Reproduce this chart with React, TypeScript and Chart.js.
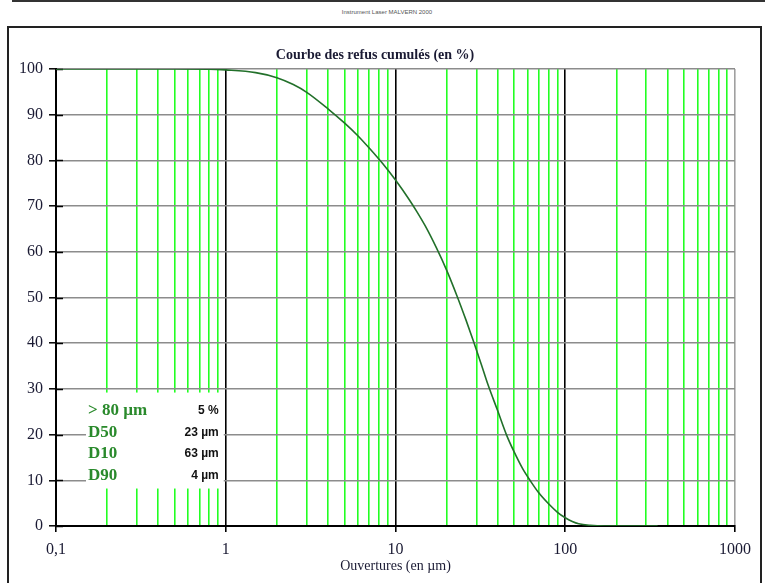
import React, { useEffect, useRef } from 'react';
import { Chart, registerables } from 'chart.js';

Chart.register(...registerables);

// ---- Data ----
const sizes = [0.1, 0.5, 0.8, 1, 1.5, 2, 2.5, 3, 4, 5, 6, 7, 8.4, 10, 12, 13.3, 15, 17.4, 20, 23, 26, 29, 32, 35, 40, 45, 50, 56, 63, 70, 80, 90, 100, 110, 120, 140, 170, 350];
const refus = [100, 100, 99.97, 99.8, 99.2, 98.1, 96.6, 94.9, 91.3, 88.2, 85.4, 82.7, 79.3, 75.7, 71.5, 68.9, 65.6, 60.9, 56, 50.4, 45.1, 40.1, 35.4, 31, 25.2, 20, 16.2, 12.6, 9.6, 7.2, 4.8, 3, 1.8, 1.0, 0.5, 0.15, 0, 0];

const decadeValues = [0.1, 1, 10, 100, 1000];
const decadeLabels = ['0,1', '1', '10', '100', '1000'];
const minorMultipliers = [2, 3, 4, 5, 6, 7, 8, 9];

const yTickValues = [0, 10, 20, 30, 40, 50, 60, 70, 80, 90, 100];

const legendLabels = ['> 80 µm', 'D50', 'D10', 'D90'];
const legendValues = ['5 %', '23 µm', '63 µm', '4 µm'];

const chartTitle = 'Courbe des refus cumulés (en %)';
const xTitle = 'Ouvertures (en µm)';
const headerText = 'Instrument Laser MALVERN 2000';

// tick positions for the log axis (decades + minor lines)
const xTickValues: number[] = [];
decadeValues.forEach((d, i) => {
  xTickValues.push(d);
  if (i < decadeValues.length - 1) minorMultipliers.forEach((m) => xTickValues.push(m * d));
});

const decadeIndex = (v: number) =>
  decadeValues.findIndex((d) => Math.abs(Math.log10(v) - Math.log10(d)) < 1e-6);

const SERIF = '"Liberation Serif", "Times New Roman", serif';
const SANS = '"Liberation Sans", Arial, sans-serif';

const overlayPlugin = {
  id: 'overlay',
  beforeDatasetsDraw(chart: any) {
    const { ctx, scales } = chart;
    const x = scales.x;
    const y = scales.y;
    ctx.save();
    // inner part of the y ticks
    ctx.strokeStyle = '#000';
    ctx.lineWidth = 1.5;
    yTickValues.forEach((v) => {
      const py = Math.round(y.getPixelForValue(v)) + 0.5;
      ctx.beginPath();
      ctx.moveTo(x.left, py);
      ctx.lineTo(x.left + 7, py);
      ctx.stroke();
    });
    // legend box (white, covers the grid)
    const bx0 = x.left + 30;
    const bx1 = x.getPixelForValue(1) - 2;
    const by0 = y.getPixelForValue(29.2);
    const by1 = y.getPixelForValue(8.2);
    ctx.fillStyle = '#ffffff';
    ctx.fillRect(bx0, by0, bx1 - bx0, by1 - by0);
    // legend texts
    const rowY = [y.getPixelForValue(25.2), y.getPixelForValue(20.5), y.getPixelForValue(15.8), y.getPixelForValue(11)];
    ctx.textBaseline = 'middle';
    legendLabels.forEach((t, i) => {
      ctx.font = `bold 17px ${SERIF}`;
      ctx.fillStyle = '#2a8a2c';
      ctx.textAlign = 'left';
      ctx.fillText(t, bx0 + 2, rowY[i]);
      ctx.font = `bold 12px ${SANS}`;
      ctx.fillStyle = '#111';
      ctx.textAlign = 'right';
      ctx.fillText(legendValues[i], bx1 - 5, rowY[i]);
    });
    // chart title
    ctx.font = `bold 14px ${SERIF}`;
    ctx.fillStyle = '#1a1a33';
    ctx.textAlign = 'center';
    ctx.fillText(chartTitle, 375, 55);
    // x axis title
    ctx.font = `14px ${SERIF}`;
    ctx.fillStyle = '#1a1a33';
    ctx.fillText(xTitle, x.getPixelForValue(10), 566);
    ctx.restore();
  },
};

export default function App() {
  const canvasRef = useRef<HTMLCanvasElement | null>(null);

  useEffect(() => {
    if (!canvasRef.current) return;
    const chart = new Chart(canvasRef.current, {
      type: 'line',
      data: {
        datasets: [
          {
            data: sizes.map((s, i) => ({ x: s, y: refus[i] })),
            borderColor: '#22702a',
            borderWidth: 1.6,
            pointRadius: 0,
            cubicInterpolationMode: 'monotone',
            fill: false,
          },
        ],
      },
      options: {
        animation: false,
        responsive: false,
        devicePixelRatio: 1,
        layout: { padding: { left: 0, top: 69, right: 32, bottom: 0 } },
        plugins: {
          legend: { display: false },
          title: { display: false },
          tooltip: { enabled: false },
        },
        scales: {
          x: {
            type: 'logarithmic',
            min: 0.1,
            max: 1000,
            afterFit: (s: any) => {
              s.height = 57;
            },
            afterBuildTicks: (s: any) => {
              s.ticks = xTickValues.map((v) => ({ value: v }));
            },
            border: { display: true, color: '#000', width: 2 },
            grid: {
              lineWidth: 1.6,
              color: (c: any) => {
                const v = c.tick ? c.tick.value : 0;
                const i = decadeIndex(v);
                if (i === decadeValues.length - 1) return '#a0a0a0';
                if (i >= 0) return '#000000';
                return '#22ff22';
              },
              tickColor: (c: any) => {
                const v = c.tick ? c.tick.value : 0;
                return decadeIndex(v) >= 0 ? '#000000' : 'rgba(0,0,0,0)';
              },
              tickLength: 6,
              tickWidth: 1.6,
            },
            ticks: {
              autoSkip: false,
              maxRotation: 0,
              minRotation: 0,
              padding: 8,
              color: '#1a1a33',
              font: { family: SERIF, size: 16 },
              callback: (v: any) => {
                const i = decadeIndex(Number(v));
                return i >= 0 ? decadeLabels[i] : '';
              },
            },
          },
          y: {
            min: 0,
            max: 100,
            afterFit: (s: any) => {
              s.width = 56;
            },
            afterBuildTicks: (s: any) => {
              s.ticks = yTickValues.map((v) => ({ value: v }));
            },
            border: { display: true, color: '#000', width: 2 },
            grid: {
              color: '#8c8c8c',
              lineWidth: 1.6,
              tickColor: '#000',
              tickLength: 7,
              tickWidth: 1.5,
            },
            ticks: {
              padding: 6,
              color: '#1a1a33',
              font: { family: SERIF, size: 16 },
            },
          },
        },
      },
      plugins: [overlayPlugin],
    } as any);
    return () => chart.destroy();
  }, []);

  return (
    <div style={{ position: 'fixed', left: 0, top: 0, width: 767, height: 583, background: '#fff', overflow: 'hidden' }}>
      {/* top frame (bottom edge of a box above) */}
      <div style={{ position: 'absolute', left: 12, top: -10, width: 749, height: 10, borderLeft: '2px solid #333', borderRight: '2px solid #333', borderBottom: '2px solid #333' }} />
      <div style={{ position: 'absolute', left: 0, width: 774, top: 9, textAlign: 'center', fontFamily: SANS, fontSize: 6, color: '#555' }}>{headerText}</div>
      {/* main frame */}
      <div style={{ position: 'absolute', left: 7, top: 26, width: 751, height: 600, border: '2px solid #222' }} />
      <canvas ref={canvasRef} width={767} height={583} style={{ position: 'absolute', left: 0, top: 0, width: 767, height: 583 }} />
    </div>
  );
}
